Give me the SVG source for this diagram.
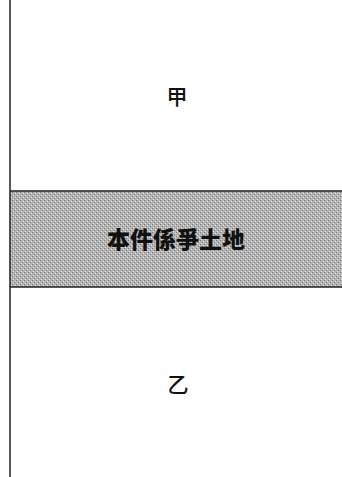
<svg xmlns="http://www.w3.org/2000/svg" width="342" height="477" viewBox="0 0 342 477">
<defs>
<pattern id="dither" width="4" height="4" patternUnits="userSpaceOnUse">
<rect width="4" height="4" fill="#b4b4b4"/>
<rect x="0" y="0" width="1" height="1" fill="#7a7a7a"/>
<rect x="2" y="2" width="1" height="1" fill="#7a7a7a"/>
<rect x="1" y="3" width="1" height="1" fill="#e0e0e0"/>
<rect x="3" y="1" width="1" height="1" fill="#e0e0e0"/>
</pattern>
</defs>
<style>
.lbl{font-family:"Noto Sans CJK TC","Noto Sans CJK SC",sans-serif;fill:#111;text-anchor:middle}
.edge{stroke:#222;fill:none}
</style>
<rect width="342" height="477" fill="#fff"/>
<g id="band">
<rect x="10" y="191" width="332" height="96" fill="url(#dither)"/>
<line class="edge" x1="10" y1="191" x2="342" y2="191" stroke-width="1.5"/>
<line class="edge" x1="10" y1="287" x2="342" y2="287" stroke-width="1.5"/>
<text class="lbl" x="176" y="248" font-size="23" font-weight="900">本件係爭土地</text>
</g>
<g id="connectors">
<line class="edge" x1="10" y1="0" x2="10" y2="477" stroke-width="1.5"/>
</g>
<g id="jia">
<text class="lbl" x="177" y="104" font-size="21" font-weight="500">甲</text>
</g>
<g id="yi">
<text class="lbl" x="178" y="392" font-size="21" font-weight="500">乙</text>
</g>
</svg>
